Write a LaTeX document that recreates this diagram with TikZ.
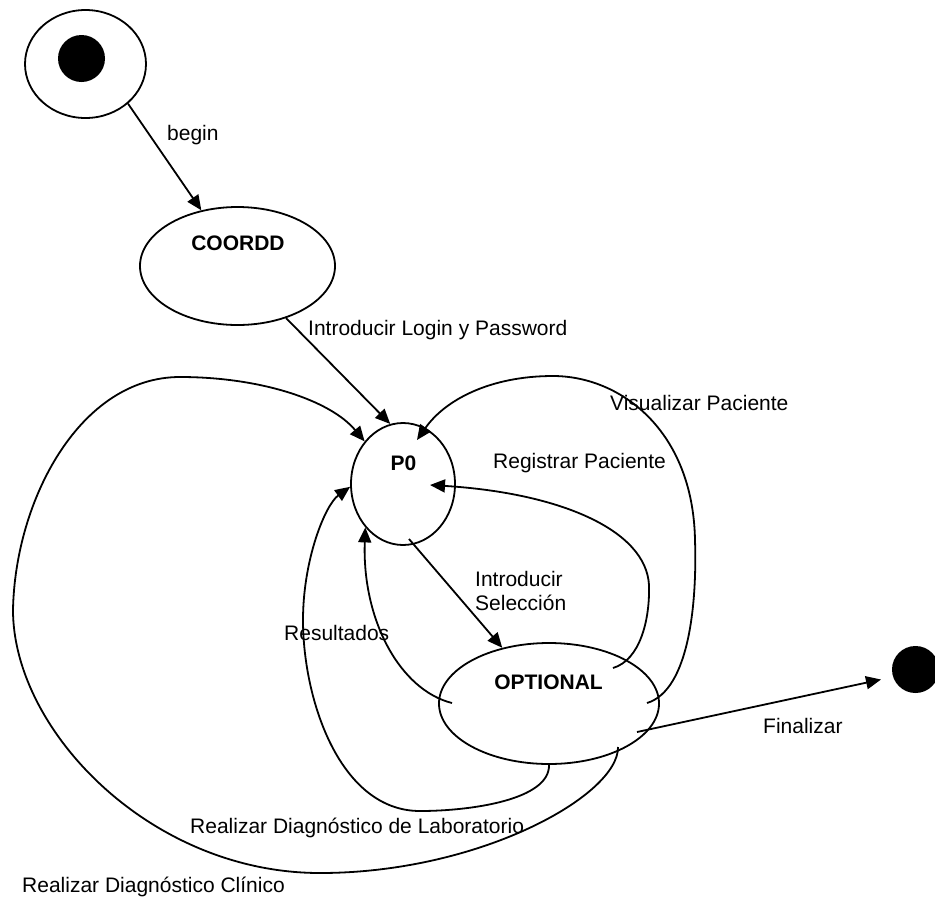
\documentclass[tikz,border=0pt]{standalone}
\usepackage{fontspec}
\setmainfont{Liberation Sans}
\usetikzlibrary{arrows.meta,shapes.geometric,calc}
\begin{document}
\begin{tikzpicture}[x=1pt,y=-1pt,
  every node/.style={font=\fontsize{21}{24}\selectfont},
  line/.style={line width=1.8pt},
  flow/.style={line, -{Triangle[length=15pt,width=13pt]}},
  statebox/.style={ellipse, draw, line width=1.8pt, inner sep=0pt},
  dot/.style={circle, fill=black, inner sep=0pt},
  lbl/.style={anchor=base west, inner sep=0pt},
  title/.style={anchor=base, inner sep=0pt, font=\fontsize{21}{24}\selectfont\bfseries}]
\useasboundingbox (0,0) rectangle (935,898);

% states
\node[statebox, minimum width=121pt, minimum height=108pt] (start) at (85.5,64) {};
\node[dot, minimum size=47pt] (startdot) at (81.5,58.5) {};
\node[statebox, minimum width=195pt, minimum height=118pt] (coordd) at (237.5,266) {};
\node[statebox, minimum width=104pt, minimum height=122pt] (p0) at (403,484) {};
\node[statebox, minimum width=220pt, minimum height=121pt] (opt) at (549,703.5) {};
\node[dot, minimum size=47pt] (enddot) at (915.5,669.5) {};

% state names
\node[title] (coorddname) at (238,250) {COORDD};
\node[title] (p0name) at (403.5,470) {P0};
\node[title] (optname) at (548.5,689) {OPTIONAL};

% transition labels
\node[lbl] (lbegin) at (167,140) {begin};
\node[lbl] (llogin) at (308,335) {Introducir Login y Password};
\node[lbl] (lvis) at (610,410) {Visualizar Paciente};
\node[lbl] (lreg) at (493,468) {Registrar Paciente};
\node[lbl] (lselA) at (475,586) {Introducir};
\node[lbl] (lselB) at (475,610) {Selección};
\node[lbl] (lres) at (284,640) {Resultados};
\node[lbl] (lfin) at (763,733) {Finalizar};
\node[lbl] (llab) at (190,833) {Realizar Diagnóstico de Laboratorio};
\node[lbl] (lcli) at (22,892) {Realizar Diagnóstico Clínico};

% straight transitions
\draw[flow] (start.-43.5) -- (coordd.123);
\draw[flow] (coordd.-47.6) -- (p0.102);
\draw[flow] ($(p0)+(6,55)$) -- (opt.130);
\draw[flow] ($(opt)+(88,28.5)$) -- ($(enddot)+(-34.5,10)$);

% curved transitions back to P0
\draw[flow] ($(opt)+(98,-0.5)$) .. controls (690,690) and (697,600) .. (695,540)
  .. controls (693,430) and (620,376) .. (553,376)
  .. controls (490,376) and (445,400) .. ($(p0)+(14,-44)$);
\draw[flow] ($(opt)+(64,-35.5)$) .. controls (640,660) and (650,620) .. (649,585)
  .. controls (646,530) and (560,493) .. ($(p0)+(27,1)$);
\draw[flow] ($(opt)+(-97,-0.5)$) .. controls (400,690) and (362,620) .. (p0.229);
\draw[flow] (opt.south) .. controls (550,800) and (470,811) .. (420,811)
  .. controls (340,811) and (303,700) .. (303,620)
  .. controls (303,560) and (325,505) .. (p0.183);
\draw[flow] ($(opt)+(69,43.5)$) .. controls (619,795) and (480,873) .. (320,873)
  .. controls (150,873) and (13,730) .. (13,610)
  .. controls (15,500) and (80,377) .. (180,377)
  .. controls (260,377) and (330,400) .. (p0.132);
\end{tikzpicture}
\end{document}
